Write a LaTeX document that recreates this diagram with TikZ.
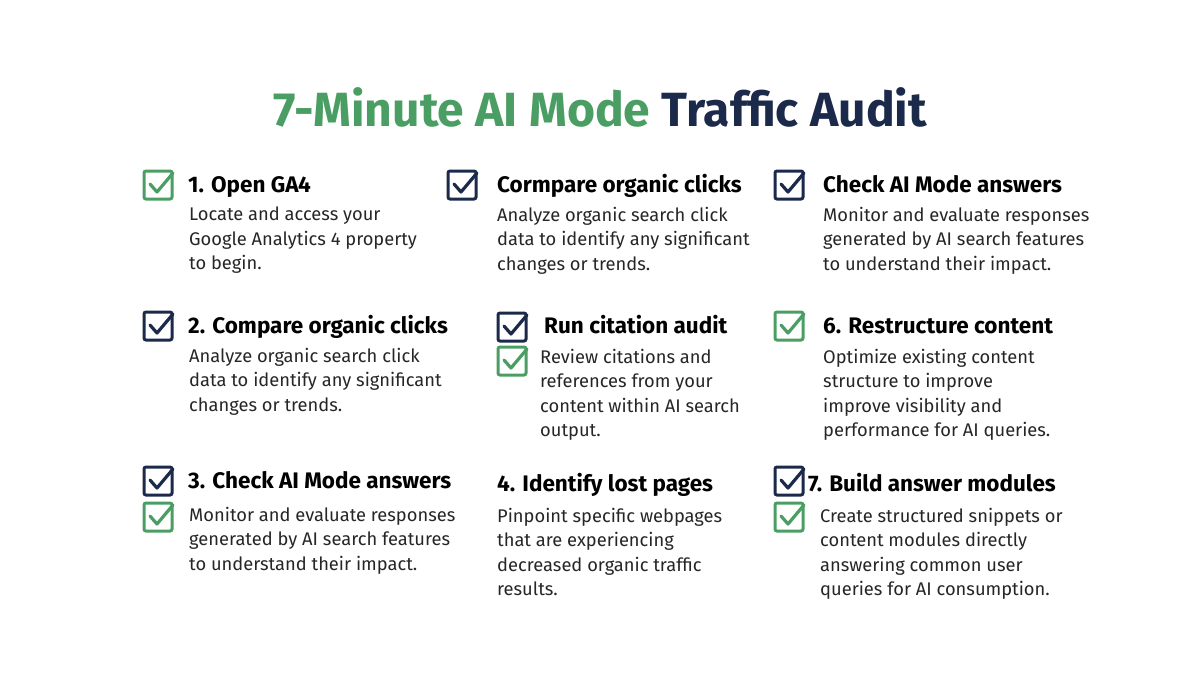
\documentclass[tikz,border=0pt]{standalone}
\usepackage{fontspec}
\setmainfont{Fira Sans}
\usetikzlibrary{positioning}
\definecolor{auditgreen}{HTML}{4A9E63}
\definecolor{auditnavy}{HTML}{1B2A4A}
\tikzset{
    heading/.style={anchor=base west, inner sep=0pt, text=black,
        font=\fontsize{22.5}{26}\selectfont\bfseries},
    body/.style={anchor=north west, inner sep=0pt, align=left, text=black!85,
        font=\fontsize{18.3}{24.5}\selectfont},
    title/.style={inner sep=0pt, font=\fontsize{48}{54}\selectfont\bfseries}
}
% checkbox: colour, x, y of upper left corner
\newcommand{\checkbox}[3]{%
    \draw [#1, line width=3pt, rounded corners=2pt] (#2,#3) rectangle ++(28,28);
    \draw [#1, line width=3.2pt, line join=round, line cap=round]
        (#2+6,#3+13) -- (#2+13,#3+21) -- (#2+29,#3+2);
}
\begin{document}
\begin{tikzpicture}[x=1pt,y=-1pt]
    \useasboundingbox [fill=white] (0,0) rectangle (1200,675);

    % Title
    \node [title] (title) at (600,107)
        {\textcolor{auditgreen}{7-Minute AI Mode} \textcolor{auditnavy}{Traffic Audit}};

    % Column 1
    \checkbox{auditgreen}{144}{171}
    \node [heading] (open) at (188,192) {1. Open GA4};
    \node [body] (openText) at (189,207)
        {Locate and access your\\Google Analytics 4 property\\to begin.};

    \checkbox{auditnavy}{144}{312}
    \node [heading] (compare) at (188,333) {2. Compare organic clicks};
    \node [body] (compareText) at (189,348)
        {Analyze organic search click\\data to identify any significant\\changes or trends.};

    \checkbox{auditnavy}{144}{467}
    \checkbox{auditgreen}{144}{503}
    \node [heading] (answers) at (188,488) {3. Check AI Mode answers};
    \node [body] (answersText) at (189,507)
        {Monitor and evaluate responses\\generated by AI search features\\to understand their impact.};

    % Column 2
    \checkbox{auditnavy}{448}{171}
    \node [heading] (compareTwo) at (497,192) {Cormpare organic clicks};
    \node [body] (compareTwoText) at (497,207)
        {Analyze organic search click\\data to identify any significant\\changes or trends.};

    \checkbox{auditnavy}{498}{313}
    \checkbox{auditgreen}{498}{347}
    \node [heading] (citation) at (544,333) {Run citation audit};
    \node [body] (citationText) at (540,349)
        {Review citations and\\references from your\\content within AI search\\output.};

    \node [heading] (lost) at (497,491) {4. Identify lost pages};
    \node [body] (lostText) at (497,508)
        {Pinpoint specific webpages\\that are experiencing\\decreased organic traffic\\results.};

    % Column 3
    \checkbox{auditnavy}{775}{171}
    \node [heading] (answersTwo) at (823,192) {Check AI Mode answers};
    \node [body] (answersTwoText) at (823,207)
        {Monitor and evaluate responses\\generated by AI search features\\to understand their impact.};

    \checkbox{auditgreen}{775}{312}
    \node [heading] (restructure) at (823,333) {6. Restructure content};
    \node [body] (restructureText) at (823,349)
        {Optimize existing content\\structure to improve\\improve visibility and\\performance for AI queries.};

    \checkbox{auditnavy}{775}{467}
    \checkbox{auditgreen}{775}{503}
    \node [heading] (modules) at (808,491) {7. Build answer modules};
    \node [body] (modulesText) at (820,508)
        {Create structured snippets or\\content modules directly\\answering common user\\queries for AI consumption.};
\end{tikzpicture}
\end{document}
